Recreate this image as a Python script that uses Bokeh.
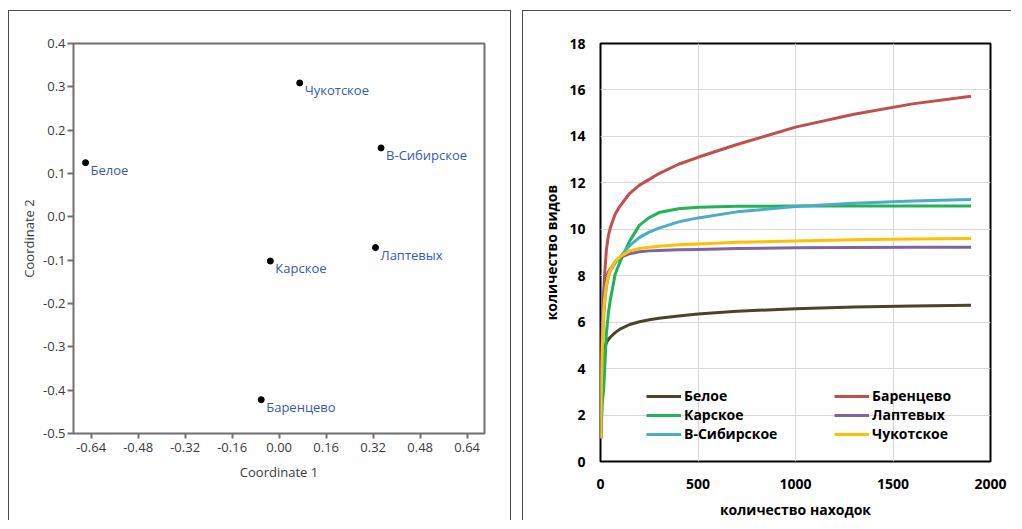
from bokeh.plotting import figure
from bokeh.layouts import row
from bokeh.models import (Range1d, FixedTicker, PrintfTickFormatter, Legend, LegendItem)
from bokeh.core.properties import value
from bokeh.embed import file_html
from bokeh.resources import INLINE

# ---------------- data: MDS ordination ----------------
seas = ["Белое", "Чукотское", "В-Сибирское", "Лаптевых", "Карское", "Баренцево"]
coord1 = [-0.659, 0.070, 0.347, 0.328, -0.030, -0.061]
coord2 = [0.125, 0.309, 0.159, -0.071, -0.102, -0.422]
x_ticks_left = [-0.64, -0.48, -0.32, -0.16, 0.0, 0.16, 0.32, 0.48, 0.64]
y_ticks_left = [-0.5, -0.4, -0.3, -0.2, -0.1, 0.0, 0.1, 0.2, 0.3, 0.4]

# ---------------- data: rarefaction curves ----------------
finds = [1, 5, 10, 15, 20, 30, 40, 50, 75, 100, 150, 200, 250, 300, 400, 500,
         700, 1000, 1300, 1600, 1900]
beloe = [1, 3.3, 4.3, 4.7, 4.9, 5.1, 5.25, 5.35, 5.55, 5.7, 5.9, 6.02, 6.1, 6.17, 6.27, 6.35,
         6.47, 6.58, 6.65, 6.7, 6.73]
barents = [1, 4.3, 6.0, 7.0, 7.9, 9.1, 9.7, 10.05, 10.65, 11.0, 11.55, 11.9, 12.15, 12.4, 12.8, 13.1,
           13.65, 14.4, 14.95, 15.4, 15.73]
kara = [1, 1.7, 2.6, 3.0, 3.7, 5.5, 6.35, 6.95, 8.05, 8.6, 9.5, 10.18, 10.5, 10.72, 10.88, 10.95,
        10.99, 11.0, 11.0, 11.0, 11.0]
laptev = [1, 4.5, 6.0, 7.1, 7.5, 7.9, 8.15, 8.3, 8.6, 8.78, 8.95, 9.03, 9.07, 9.09, 9.12, 9.13,
          9.17, 9.2, 9.22, 9.23, 9.23]
esib = [1, 3.3, 5.0, 6.0, 6.7, 7.5, 7.95, 8.2, 8.55, 8.8, 9.3, 9.65, 9.88, 10.05, 10.32, 10.49,
        10.75, 10.98, 11.12, 11.22, 11.28]
chukchi = [1, 3.5, 5.0, 6.3, 6.9, 7.6, 8.0, 8.25, 8.62, 8.82, 9.07, 9.17, 9.23, 9.27, 9.33, 9.37,
           9.44, 9.5, 9.55, 9.58, 9.6]
x_ticks_right = [0, 500, 1000, 1500, 2000]
y_ticks_right = [0, 2, 4, 6, 8, 10, 12, 14, 16, 18]

series_names = ["Белое", "Баренцево", "Карское", "Лаптевых", "В-Сибирское", "Чукотское"]
series_vals = [beloe, barents, kara, laptev, esib, chukchi]
series_colors = ["#4a452a", "#c0504d", "#22b35a", "#8064a2", "#4bacc6", "#ffc000"]

# ---------------- left panel ----------------
FONT_L = "Open Sans"
p1 = figure(width=503, height=510, output_backend="svg", toolbar_location=None,
            x_range=Range1d(-0.70, 0.699), y_range=Range1d(-0.5, 0.4),
            min_border_left=64, min_border_right=28, min_border_top=32, min_border_bottom=88,
            frame_align=False,
            styles={"border": "1px solid #4d4d4d", "border-bottom": "none"})
p1.grid.visible = False
p1.outline_line_color = "#707070"
p1.outline_line_width = 2
p1.xaxis.ticker = FixedTicker(ticks=x_ticks_left)
p1.yaxis.ticker = FixedTicker(ticks=y_ticks_left)
p1.xaxis.formatter = PrintfTickFormatter(format="%.2f")
p1.yaxis.formatter = PrintfTickFormatter(format="%.1f")
p1.xaxis.axis_label = "Coordinate 1"
p1.yaxis.axis_label = "Coordinate 2"
for ax in (p1.xaxis[0], p1.yaxis[0]):
    ax.axis_line_color = None
    ax.major_tick_line_color = "#707070"
    ax.major_tick_line_width = 2
    ax.major_tick_in = 0
    ax.minor_tick_line_color = None
    ax.major_label_text_font = FONT_L
    ax.major_label_text_font_size = "13px"
    ax.major_label_text_color = "#3a3a3a"
    ax.axis_label_text_font = FONT_L
    ax.axis_label_text_font_size = "13px"
    ax.axis_label_text_font_style = "normal"
    ax.axis_label_text_color = "#3a3a3a"
p1.xaxis.major_tick_out = 5
p1.yaxis.major_tick_out = 6
p1.xaxis.major_label_standoff = 4
p1.yaxis.major_label_standoff = 2
p1.xaxis.axis_label_standoff = 8
p1.yaxis.axis_label_standoff = 2

p1.scatter(coord1, coord2, size=6, color="black")
p1.text(coord1, coord2, text=seas, x_offset=5, y_offset=7,
        text_baseline="middle", text_align="left",
        text_font=value(FONT_L), text_font_size="13px", text_color="#3558b5")

# ---------------- right panel ----------------
FONT_R = "Open Sans"
p2 = figure(width=489, height=510, output_backend="svg", toolbar_location=None,
            x_range=Range1d(0, 2000), y_range=Range1d(0, 18),
            min_border_left=77, min_border_right=22, min_border_top=32, min_border_bottom=60,
            frame_align=False,
            styles={"border": "1px solid #4d4d4d", "border-bottom": "none", "border-right": "none"})
p2.outline_line_color = "black"
p2.outline_line_width = 2
p2.xaxis.ticker = FixedTicker(ticks=x_ticks_right)
p2.yaxis.ticker = FixedTicker(ticks=y_ticks_right)
p2.xgrid.ticker = FixedTicker(ticks=x_ticks_right)
p2.ygrid.ticker = FixedTicker(ticks=y_ticks_right)
p2.grid.grid_line_color = "#d9d9d9"
p2.grid.grid_line_width = 1
p2.xaxis.axis_label = "количество находок"
p2.yaxis.axis_label = "количество видов"
for ax in (p2.xaxis[0], p2.yaxis[0]):
    ax.axis_line_color = None
    ax.major_tick_line_color = None
    ax.minor_tick_line_color = None
    ax.major_label_text_font = FONT_R
    ax.major_label_text_font_size = "14px"
    ax.major_label_text_font_style = "bold"
    ax.major_label_text_color = "black"
    ax.axis_label_text_font = FONT_R
    ax.axis_label_text_font_size = "14px"
    ax.axis_label_text_font_style = "bold"
    ax.axis_label_text_color = "black"
p2.xaxis.major_label_standoff = 11
p2.yaxis.major_label_standoff = 9
p2.xaxis.axis_label_standoff = 8
p2.yaxis.axis_label_standoff = 5

renderers = []
for name, vals, col in zip(series_names, series_vals, series_colors):
    r = p2.line(finds, vals, line_color=col, line_width=3, line_join="round")
    renderers.append(r)

def make_legend(idx, loc):
    items = [LegendItem(label=series_names[i], renderers=[renderers[i]]) for i in idx]
    leg = Legend(items=items, location=loc, orientation="vertical",
                 background_fill_alpha=0, border_line_color=None,
                 padding=0, margin=0, spacing=0,
                 glyph_width=35, glyph_height=16, label_height=16, label_standoff=3,
                 label_text_font=FONT_R, label_text_font_size="14px",
                 label_text_font_style="bold", label_text_color="black")
    return leg

p2.add_layout(make_legend([0, 2, 4], (46, 18)), "center")
p2.add_layout(make_legend([1, 3, 5], (234, 18)), "center")

layout = row(p1, p2, spacing=11, margin=(10, 0, 0, 8))
open("out.html", "w").write(file_html(layout, INLINE))
